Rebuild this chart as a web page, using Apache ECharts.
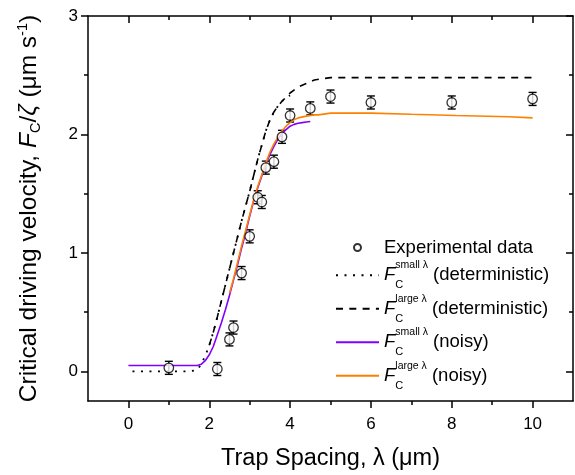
<!DOCTYPE html>
<html><head><meta charset="utf-8">
<script src="https://cdn.jsdelivr.net/npm/echarts@6/dist/echarts.min.js"></script>
<style>html,body{margin:0;padding:0;background:#fff}#c{width:575px;height:475px}</style>
</head><body><div id="c"></div>
<script>
// ---- data ----
const expX = [1.0, 2.2, 2.5, 2.6, 2.8, 3.0, 3.2, 3.3, 3.4, 3.6, 3.8, 4.0, 4.5, 5.0, 6.0, 8.0, 10.0];
const expY = [0.03, 0.02, 0.27, 0.37, 0.83, 1.14, 1.47, 1.43, 1.72, 1.77, 1.98, 2.16, 2.22, 2.32, 2.27, 2.27, 2.30];
const expErr = [0.055, 0.055, 0.055, 0.055, 0.055, 0.055, 0.055, 0.055, 0.055, 0.055, 0.055, 0.055, 0.055, 0.055, 0.055, 0.055, 0.055];

const smallDetX = [0.1, 0.5, 1.0, 1.5, 1.7, 1.8, 1.9, 2.0, 2.1, 2.2, 2.4, 2.6, 2.8, 3.0, 3.2, 3.4, 3.5, 3.6, 3.7, 3.8, 3.9, 4.0];
const smallDetY = [0.0, 0.0, 0.0, 0.0, 0.01, 0.06, 0.13, 0.22, 0.33, 0.46, 0.73, 1.0, 1.27, 1.52, 1.79, 2.03, 2.12, 2.19, 2.24, 2.28, 2.31, 2.33];

const largeDetX = [2.0, 2.1, 2.2, 2.4, 2.6, 2.8, 3.0, 3.2, 3.4, 3.5, 3.6, 3.7, 3.8, 4.0, 4.2, 4.4, 4.6, 4.8, 5.0, 5.5, 6.0, 7.0, 8.0, 9.0, 10.0];
const largeDetY = [0.22, 0.33, 0.46, 0.73, 1.0, 1.27, 1.52, 1.79, 2.03, 2.12, 2.19, 2.24, 2.28, 2.35, 2.40, 2.43, 2.46, 2.47, 2.48, 2.48, 2.48, 2.48, 2.48, 2.48, 2.48];

const smallNoisyX = [0.0, 0.5, 1.0, 1.5, 1.7, 1.8, 1.9, 2.0, 2.1, 2.2, 2.3, 2.4, 2.5, 2.6, 2.7, 2.8, 2.9, 3.0, 3.1, 3.2, 3.3, 3.4, 3.5, 3.6, 3.7, 3.8, 3.9, 4.0, 4.1, 4.2, 4.3, 4.4, 4.5];
const smallNoisyY = [0.05, 0.05, 0.05, 0.05, 0.05, 0.06, 0.09, 0.14, 0.21, 0.31, 0.41, 0.52, 0.64, 0.77, 0.9, 1.04, 1.17, 1.31, 1.44, 1.55, 1.65, 1.75, 1.83, 1.9, 1.96, 2.01, 2.04, 2.07, 2.085, 2.095, 2.1, 2.105, 2.11];

const largeNoisyX = [2.5, 2.6, 2.7, 2.8, 2.9, 3.0, 3.1, 3.2, 3.3, 3.4, 3.5, 3.6, 3.7, 3.8, 3.9, 4.0, 4.1, 4.2, 4.4, 4.6, 4.7, 4.72, 5.0, 5.5, 6.0, 6.02, 7.0, 7.02, 8.1, 8.12, 9.4, 9.42, 10.0];
const largeNoisyY = [0.66, 0.78, 0.92, 1.06, 1.19, 1.32, 1.45, 1.56, 1.66, 1.76, 1.85, 1.92, 1.98, 2.03, 2.07, 2.10, 2.125, 2.14, 2.155, 2.165, 2.165, 2.18, 2.18, 2.18, 2.18, 2.17, 2.17, 2.16, 2.16, 2.15, 2.15, 2.14, 2.14];

const xMajor = [0, 2, 4, 6, 8, 10];
const xMinor = [1, 3, 5, 7, 9];
const yMajor = [0, 1, 2, 3];
const yMinor = [0.5, 1.5, 2.5];

const names = ['Experimental data', 'Fsmall (deterministic)', 'Flarge (deterministic)', 'Fsmall (noisy)', 'Flarge (noisy)'];
const legendRich = {
  'Experimental data': '{e|Experimental data}',
  'Fsmall (deterministic)': '{F|F}{c|C}{s|small λ}{t| (deterministic)}',
  'Flarge (deterministic)': '{F|F}{c|C}{s|large λ}{t| (deterministic)}',
  'Fsmall (noisy)': '{F|F}{c|C}{s|small λ}{t| (noisy)}',
  'Flarge (noisy)': '{F|F}{c|C}{s|large λ}{t| (noisy)}'
};

const FONT = 'Liberation Sans, Arial, sans-serif';
const zip = (a, b) => a.map((v, i) => [v, b[i]]);

function xAx(pos, ticks, len, inside, labels, line) {
  return {
    type: 'value', position: pos, min: -1, max: 11,
    splitLine: {show: false},
    axisLine: {show: line, onZero: false, lineStyle: {color: '#000', width: 1.5}},
    axisTick: {show: true, customValues: ticks, length: len, inside: inside, lineStyle: {color: '#000', width: 1.5}},
    axisLabel: {show: labels, customValues: xMajor, margin: 15, color: '#000', fontSize: 17, fontFamily: FONT},
    name: labels ? 'Trap Spacing, λ (μm)' : '',
    nameLocation: 'middle', nameGap: 46,
    nameTextStyle: {fontSize: 23.5, color: '#000', fontFamily: FONT}
  };
}
function yAx(pos, ticks, len, inside, labels, line) {
  return {
    type: 'value', position: pos, min: -0.25, max: 3,
    splitLine: {show: false},
    axisLine: {show: line, onZero: false, lineStyle: {color: '#000', width: 1.5}},
    axisTick: {show: true, customValues: ticks, length: len, inside: inside, lineStyle: {color: '#000', width: 1.5}},
    axisLabel: {show: labels, customValues: yMajor, margin: 10, color: '#000', fontSize: 17, fontFamily: FONT},
    name: labels ? '{a|Critical driving velocity, }{F|F}{c|C}{a|/}{z|ζ}{a| (μm s}{s|-1}{a|)}' : '',
    nameLocation: 'middle', nameGap: 45,
    nameTextStyle: {
      fontSize: 24.5, color: '#000', fontFamily: FONT,
      rich: {
        a: {fontSize: 24.5, lineHeight: 28, fontFamily: FONT, color: '#000'},
        F: {fontSize: 24.5, lineHeight: 28, fontStyle: 'italic', fontFamily: FONT, color: '#000'},
        z: {fontSize: 24.5, lineHeight: 28, fontStyle: 'italic', fontFamily: FONT, color: '#000'},
        c: {fontSize: 14.5, lineHeight: 15, verticalAlign: 'bottom', fontFamily: FONT, color: '#000'},
        s: {fontSize: 14.5, lineHeight: 15, verticalAlign: 'top', fontFamily: FONT, color: '#000'}
      }
    }
  };
}

const chart = echarts.init(document.getElementById('c'), null, {renderer: 'canvas'});
chart.setOption({
  animation: false,
  backgroundColor: '#fff',
  grid: {left: 88, right: 2, top: 16, bottom: 74, containLabel: false, outerBoundsMode: 'none'},
  xAxis: [
    xAx('bottom', xMajor, 7, false, true, true),
    xAx('bottom', xMinor, 4, false, false, false),
    xAx('top', xMajor, 7, true, false, true),
    xAx('top', xMinor, 4, true, false, false)
  ],
  yAxis: [
    yAx('left', yMajor, 7, false, true, true),
    yAx('left', yMinor, 4, false, false, false),
    yAx('right', yMajor, 7, true, false, true),
    yAx('right', yMinor, 4, true, false, false)
  ],
  legend: {
    data: names.map(n => n === 'Experimental data'
      ? {name: n, icon: 'circle'}
      : {name: n, itemStyle: {opacity: 0}}),
    orient: 'vertical', left: 335, top: 238, padding: 0,
    itemWidth: 43, itemHeight: 7, itemGap: 3,
    formatter: n => legendRich[n],
    textStyle: {
      color: '#000', fontFamily: FONT, fontSize: 18.5,
      rich: {
        e: {fontSize: 18.5, lineHeight: 17, fontFamily: FONT, color: '#000'},
        F: {fontSize: 18.5, lineHeight: 30.5, fontStyle: 'italic', fontFamily: FONT, color: '#000'},
        c: {fontSize: 11, lineHeight: 12, width: 0, verticalAlign: 'bottom', fontFamily: FONT, color: '#000'},
        s: {fontSize: 10.5, lineHeight: 12, verticalAlign: 'top', fontFamily: FONT, color: '#000'},
        t: {fontSize: 18.5, lineHeight: 30.5, fontFamily: FONT, color: '#000'}
      }
    }
  },
  series: [
    {
      name: 'errbars', type: 'custom', z: 2,
      data: expX.map((x, i) => [x, expY[i], expErr[i]]),
      encode: {x: 0, y: 1},
      renderItem: function (params, api) {
        const x = api.value(0), y = api.value(1), e = api.value(2);
        const t = api.coord([x, y + e]), b = api.coord([x, y - e]);
        const w = 4;
        const st = {stroke: '#000', lineWidth: 1.4};
        return {type: 'group', children: [
          {type: 'line', shape: {x1: t[0], y1: t[1], x2: b[0], y2: b[1]}, style: st},
          {type: 'line', shape: {x1: t[0] - w, y1: t[1], x2: t[0] + w, y2: t[1]}, style: st},
          {type: 'line', shape: {x1: b[0] - w, y1: b[1], x2: b[0] + w, y2: b[1]}, style: st}
        ]};
      }
    },
    {
      name: 'Experimental data', type: 'scatter', z: 5,
      data: zip(expX, expY), symbol: 'circle', symbolSize: 9.5,
      itemStyle: {color: '#fff', borderColor: '#000', borderWidth: 1.3}
    },
    {
      name: 'Fsmall (deterministic)', type: 'line', data: zip(smallDetX, smallDetY),
      symbol: 'none', showSymbol: false, z: 3,
      lineStyle: {color: '#000', width: 1.8, type: [2, 6.5]}, itemStyle: {color: '#000'}
    },
    {
      name: 'Flarge (deterministic)', type: 'line', data: zip(largeDetX, largeDetY),
      symbol: 'none', showSymbol: false, z: 3,
      lineStyle: {color: '#000', width: 1.6, type: [7, 6.3]}, itemStyle: {color: '#000'}
    },
    {
      name: 'Fsmall (noisy)', type: 'line', data: zip(smallNoisyX, smallNoisyY),
      symbol: 'none', showSymbol: false, z: 3,
      lineStyle: {color: '#8000ff', width: 1.6}, itemStyle: {color: '#8000ff'}
    },
    {
      name: 'Flarge (noisy)', type: 'line', data: zip(largeNoisyX, largeNoisyY),
      symbol: 'none', showSymbol: false, z: 4,
      lineStyle: {color: '#ff8000', width: 1.6}, itemStyle: {color: '#ff8000'}
    }
  ]
});
</script></body></html>
